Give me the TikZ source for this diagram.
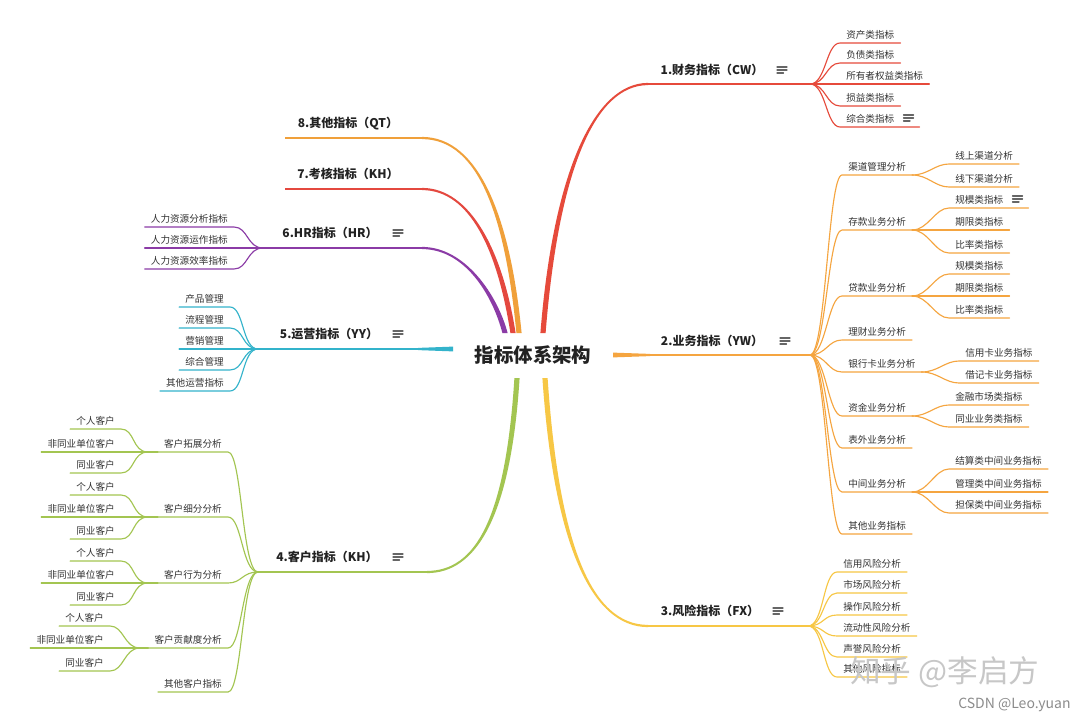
\documentclass[tikz,border=0pt]{standalone}
\usepackage{fontspec}
\setmainfont{Noto Sans CJK SC}
\usetikzlibrary{calc}
\definecolor{c1}{HTML}{E64A3B}
\definecolor{c2}{HTML}{F5A540}
\definecolor{c3}{HTML}{F7C745}
\definecolor{c4}{HTML}{A3C551}
\definecolor{c5}{HTML}{33B3CB}
\definecolor{c6}{HTML}{8B3BA6}
\definecolor{c7}{HTML}{E4483F}
\definecolor{c8}{HTML}{F0A03A}
\definecolor{txt}{HTML}{333333}
\definecolor{txtd}{HTML}{222222}
\definecolor{icg}{HTML}{666666}
\tikzset{
  leaf/.style={inner xsep=4.5pt, inner ysep=2.2pt, text height=6pt, text depth=1pt,
    font=\fontsize{7.2}{8}\selectfont, text=txt},
  mainlabel/.style={font=\bfseries\fontsize{9}{10}\selectfont, text=txtd, inner sep=0pt},
  link/.style={line width=0.85pt, line cap=round},
  mainline/.style={line width=1.4pt},
  icon/.style={draw=icg, line width=0.9pt, line cap=round},
  noteicon/.pic={\draw[icon] (0,-3) -- (10,-3) (0,0) -- (10,0) (0,3) -- (6.5,3);}
}
% right-side child: color, name, parent, x, y, text
\newcommand\rleaf[6]{%
  \node[leaf,anchor=south west] (#2) at (#4,#5) {#6};
  \draw[link,draw=#1] (#3) .. controls ($(#3)+(16,0)$) and ($(#2.south west)+(-14,0)$) .. (#2.south west) -- (#2.south east);}
% left-side child
\newcommand\lleaf[6]{%
  \node[leaf,anchor=south east] (#2) at (#4,#5) {#6};
  \draw[link,draw=#1] (#3) .. controls ($(#3)+(-16,0)$) and ($(#2.south east)+(14,0)$) .. (#2.south east) -- (#2.south west);}
% tapered trunk: color, P0, P1, P2, P3, end offset
\newcommand\trunk[6]{%
  \fill[#1] ($(#2)+(-2.6,0)$) .. controls ($(#3)+(-2.6,0)$) and ($(#4)-(0,#6)$) .. ($(#5)-(0,#6)$)
    -- ($(#5)+(0,#6)$) .. controls ($(#4)+(0,#6)$) and ($(#3)+(2.6,0)$) .. ($(#2)+(2.6,0)$) -- cycle;}
\newcommand\iconroom{\kern14.25pt\relax}
\begin{document}
\begin{tikzpicture}[x=0.75pt,y=-0.75pt]
\useasboundingbox[fill=white] (0,0) rectangle (1080,721);

% ---------- trunks ----------
\trunk{c8}{519,333}{508,220}{480,138}{422,138}{-1.1}
\trunk{c7}{513,333}{500,250}{470,189}{422,189}{-1.1}
\trunk{c6}{505,333}{495,295}{465,248}{422,248}{-1.1}
\trunk{c1}{543,333}{556,170}{595,84}{648,84}{1.1}
\trunk{c3}{545,378}{556,540}{590,626}{648,626}{-1.1}
\trunk{c4}{517,378}{508,520}{475,572}{427,572}{1.1}
\fill[c2] (613,352.6) -- (650,353.9) -- (650,356.1) -- (613,357.4) -- cycle;
\fill[c5] (453,346.6) -- (418,347.9) -- (418,350.1) -- (453,351.4) -- cycle;

\node[font=\bfseries\fontsize{14.6}{16}\selectfont, text=txtd] (root) at (533,355) {指标体系架构};

% ---------- 1 ----------
\coordinate (e1) at (648,84); \coordinate (f1) at (810,84);
\draw[mainline,c1] (e1) -- (f1);
\node[mainlabel] (b1) at (712,70) {1.财务指标（CW）};
\pic at (777,70) {noteicon};
\rleaf{c1}{c11}{f1}{840}{43}{资产类指标}
\rleaf{c1}{c12}{f1}{840}{63}{负债类指标}
\rleaf{c1}{c13}{f1}{840}{84}{所有者权益类指标}
\rleaf{c1}{c14}{f1}{840}{106}{损益类指标}
\rleaf{c1}{c15}{f1}{840}{127}{综合类指标\iconroom}
\pic at ($(c15.south east)+(-16,-9)$) {noteicon};

% ---------- 2 ----------
\coordinate (e2) at (650,355); \coordinate (f2) at (810,355);
\draw[mainline,c2] (e2) -- (f2);
\node[mainlabel] (b2) at (712,341) {2.业务指标（YW）};
\pic at (780,341) {noteicon};
\rleaf{c2}{c21}{f2}{842}{175}{渠道管理分析}
 \rleaf{c2}{c211}{c21.south east}{949}{164}{线上渠道分析}
 \rleaf{c2}{c212}{c21.south east}{949}{187}{线下渠道分析}
\rleaf{c2}{c22}{f2}{842}{230}{存款业务分析}
 \rleaf{c2}{c221}{c22.south east}{949}{208}{规模类指标\iconroom}
 \pic at ($(c221.south east)+(-16,-9)$) {noteicon};
 \rleaf{c2}{c222}{c22.south east}{949}{230}{期限类指标}
 \rleaf{c2}{c223}{c22.south east}{949}{253}{比率类指标}
\rleaf{c2}{c23}{f2}{842}{296}{贷款业务分析}
 \rleaf{c2}{c231}{c23.south east}{949}{274}{规模类指标}
 \rleaf{c2}{c232}{c23.south east}{949}{296}{期限类指标}
 \rleaf{c2}{c233}{c23.south east}{949}{318}{比率类指标}
\rleaf{c2}{c24}{f2}{842}{340}{理财业务分析}
\rleaf{c2}{c25}{f2}{842}{372}{银行卡业务分析}
 \rleaf{c2}{c251}{c25.south east}{959}{361}{信用卡业务指标}
 \rleaf{c2}{c252}{c25.south east}{959}{383}{借记卡业务指标}
\rleaf{c2}{c26}{f2}{842}{416}{资金业务分析}
 \rleaf{c2}{c261}{c26.south east}{949}{405}{金融市场类指标}
 \rleaf{c2}{c262}{c26.south east}{949}{427}{同业业务类指标}
\rleaf{c2}{c27}{f2}{842}{448}{表外业务分析}
\rleaf{c2}{c28}{f2}{842}{492}{中间业务分析}
 \rleaf{c2}{c281}{c28.south east}{949}{469}{结算类中间业务指标}
 \rleaf{c2}{c282}{c28.south east}{949}{492}{管理类中间业务指标}
 \rleaf{c2}{c283}{c28.south east}{949}{513}{担保类中间业务指标}
\rleaf{c2}{c29}{f2}{842}{534}{其他业务指标}

% ---------- 3 ----------
\coordinate (e3) at (648,626); \coordinate (f3) at (808,626);
\draw[mainline,c3] (e3) -- (f3);
\node[mainlabel] (b3) at (710,611) {3.风险指标（FX）};
\pic at (773,611) {noteicon};
\rleaf{c3}{c31}{f3}{837}{572}{信用风险分析}
\rleaf{c3}{c32}{f3}{837}{593}{市场风险分析}
\rleaf{c3}{c33}{f3}{837}{615}{操作风险分析}
\rleaf{c3}{c34}{f3}{837}{636}{流动性风险分析}
\rleaf{c3}{c35}{f3}{837}{657}{声誉风险分析}
\rleaf{c3}{c36}{f3}{837}{677}{其他风险指标}

% ---------- 4 ----------
\coordinate (e4) at (427,572); \coordinate (f4) at (258,572);
\draw[mainline,c4] (e4) -- (f4);
\node[mainlabel] (b4) at (327,557) {4.客户指标（KH）};
\pic at (393,557) {noteicon};
\lleaf{c4}{c41}{f4}{228}{452}{客户拓展分析}
 \coordinate (g41) at (148,452); \draw[link,c4] (c41.south west) -- (g41);
 \lleaf{c4}{c411}{g41}{121}{429}{个人客户}
 \lleaf{c4}{c412}{g41}{121}{452}{非同业单位客户}
 \lleaf{c4}{c413}{g41}{121}{473}{同业客户}
\lleaf{c4}{c42}{f4}{228}{517}{客户细分分析}
 \coordinate (g42) at (148,517); \draw[link,c4] (c42.south west) -- (g42);
 \lleaf{c4}{c421}{g42}{121}{495}{个人客户}
 \lleaf{c4}{c422}{g42}{121}{517}{非同业单位客户}
 \lleaf{c4}{c423}{g42}{121}{539}{同业客户}
\lleaf{c4}{c43}{f4}{228}{583}{客户行为分析}
 \coordinate (g43) at (148,583); \draw[link,c4] (c43.south west) -- (g43);
 \lleaf{c4}{c431}{g43}{121}{561}{个人客户}
 \lleaf{c4}{c432}{g43}{121}{583}{非同业单位客户}
 \lleaf{c4}{c433}{g43}{121}{605}{同业客户}
\lleaf{c4}{c44}{f4}{228}{648}{客户贡献度分析}
 \coordinate (g44) at (140,648); \draw[link,c4] (c44.south west) -- (g44);
 \lleaf{c4}{c441}{g44}{110}{626}{个人客户}
 \lleaf{c4}{c442}{g44}{110}{648}{非同业单位客户}
 \lleaf{c4}{c443}{g44}{110}{671}{同业客户}
\lleaf{c4}{c45}{f4}{228}{692}{其他客户指标}

% ---------- 5 ----------
\coordinate (e5) at (418,349); \coordinate (f5) at (258,349);
\draw[mainline,c5] (e5) -- (f5);
\node[mainlabel] (b5) at (329,334) {5.运营指标（YY）};
\pic at (393,334) {noteicon};
\lleaf{c5}{c51}{f5}{230}{307}{产品管理}
\lleaf{c5}{c52}{f5}{230}{328}{流程管理}
\lleaf{c5}{c53}{f5}{230}{349}{营销管理}
\lleaf{c5}{c54}{f5}{230}{370}{综合管理}
\lleaf{c5}{c55}{f5}{230}{391}{其他运营指标}

% ---------- 6 ----------
\coordinate (e6) at (422,248); \coordinate (f6) at (263,248);
\draw[mainline,c6] (e6) -- (f6);
\node[mainlabel] (b6) at (330,233) {6.HR指标（HR）};
\pic at (393,233) {noteicon};
\lleaf{c6}{c61}{f6}{234}{227}{人力资源分析指标}
\lleaf{c6}{c62}{f6}{234}{248}{人力资源运作指标}
\lleaf{c6}{c63}{f6}{234}{269}{人力资源效率指标}

% ---------- 7 ----------
\coordinate (e7) at (422,189); \coordinate (f7) at (285,189);
\draw[mainline,c7] (e7) -- (f7);
\node[mainlabel] (b7) at (348,174) {7.考核指标（KH）};

% ---------- 8 ----------
\coordinate (e8) at (422,138); \coordinate (f8) at (285,138);
\draw[mainline,c8] (e8) -- (f8);
\node[mainlabel] (b8) at (348,124) {8.其他指标（QT）};

% ---------- watermarks ----------
\node[font=\fontsize{23}{24}\selectfont, text=black!22, anchor=west, inner sep=0pt] (wm) at (850,672) {知乎 @李启方};
\node[font=\fontsize{10.5}{12}\selectfont, text=black!45, anchor=west, inner sep=0pt] (csdn) at (958,705) {CSDN @Leo.yuan};
\end{tikzpicture}
\end{document}
